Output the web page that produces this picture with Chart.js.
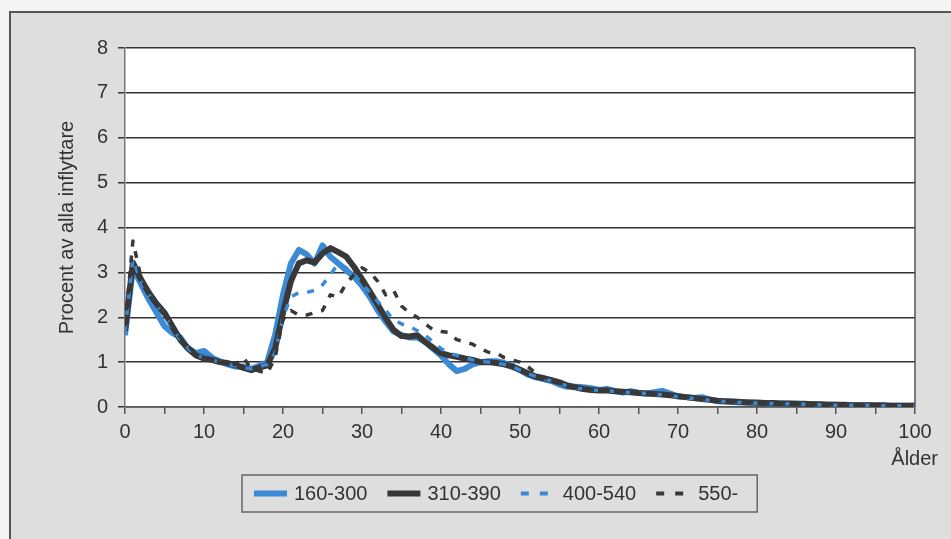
<!DOCTYPE html>
<html>
<head>
<meta charset="utf-8">
<script src="https://cdn.jsdelivr.net/npm/chart.js@4/dist/chart.umd.min.js"></script>
<style>
  html, body { margin: 0; padding: 0; background: #f4f4f4; }
</style>
</head>
<body>
<canvas id="chart" width="951" height="539"></canvas>
<script>
// Age (years), 0..100
const ages = [
  0, 1, 2, 3, 4, 5, 6, 7, 8, 9,
  10, 11, 12, 13, 14, 15, 16, 17, 18, 19,
  20, 21, 22, 23, 24, 25, 26, 27, 28, 29,
  30, 31, 32, 33, 34, 35, 36, 37, 38, 39,
  40, 41, 42, 43, 44, 45, 46, 47, 48, 49,
  50, 51, 52, 53, 54, 55, 56, 57, 58, 59,
  60, 61, 62, 63, 64, 65, 66, 67, 68, 69,
  70, 71, 72, 73, 74, 75, 76, 77, 78, 79,
  80, 81, 82, 83, 84, 85, 86, 87, 88, 89,
  90, 91, 92, 93, 94, 95, 96, 97, 98, 99, 100
];

// Procent av alla inflyttare, per group
const grp160_300 = [
  1.60, 3.10, 2.75, 2.40, 2.10, 1.80, 1.65, 1.55, 1.30, 1.20,
  1.25, 1.10, 1.02, 0.95, 0.90, 0.90, 0.85, 0.92, 1.00, 1.60,
  2.50, 3.20, 3.50, 3.40, 3.20, 3.60, 3.35, 3.20, 3.05, 2.90,
  2.70, 2.45, 2.15, 1.90, 1.68, 1.60, 1.55, 1.55, 1.45, 1.30,
  1.15, 0.95, 0.80, 0.85, 0.95, 1.00, 1.02, 1.02, 0.98, 0.92,
  0.82, 0.72, 0.66, 0.62, 0.58, 0.50, 0.45, 0.45, 0.44, 0.42,
  0.38, 0.40, 0.36, 0.32, 0.35, 0.32, 0.30, 0.33, 0.36, 0.30,
  0.24, 0.22, 0.20, 0.22, 0.17, 0.13, 0.12, 0.11, 0.10, 0.10,
  0.09, 0.09, 0.08, 0.08, 0.07, 0.07, 0.06, 0.06, 0.05, 0.05,
  0.05, 0.04, 0.04, 0.04, 0.04, 0.03, 0.03, 0.03, 0.03, 0.03, 0.03
];

const grp310_390 = [
  1.70, 3.22, 2.85, 2.55, 2.30, 2.10, 1.80, 1.50, 1.30, 1.15,
  1.08, 1.05, 1.00, 0.98, 0.93, 0.87, 0.82, 0.88, 0.93, 1.30,
  2.10, 2.80, 3.20, 3.27, 3.22, 3.42, 3.54, 3.45, 3.35, 3.12,
  2.85, 2.57, 2.28, 1.98, 1.72, 1.58, 1.57, 1.60, 1.45, 1.32,
  1.20, 1.15, 1.12, 1.08, 1.05, 1.00, 1.00, 0.98, 0.95, 0.90,
  0.83, 0.75, 0.68, 0.64, 0.60, 0.55, 0.48, 0.44, 0.40, 0.38,
  0.37, 0.37, 0.35, 0.34, 0.33, 0.31, 0.30, 0.29, 0.28, 0.26,
  0.24, 0.22, 0.20, 0.18, 0.16, 0.14, 0.13, 0.12, 0.11, 0.10,
  0.10, 0.09, 0.09, 0.08, 0.08, 0.07, 0.07, 0.06, 0.06, 0.05,
  0.05, 0.05, 0.04, 0.04, 0.04, 0.04, 0.04, 0.03, 0.03, 0.03, 0.03
];

const grp400_540 = [
  1.70, 3.30, 2.80, 2.50, 2.25, 2.05, 1.75, 1.50, 1.30, 1.15,
  1.10, 1.05, 1.00, 0.95, 0.92, 0.88, 0.85, 0.90, 0.95, 1.20,
  2.00, 2.45, 2.55, 2.55, 2.60, 2.72, 2.95, 3.20, 3.10, 2.95,
  2.75, 2.55, 2.35, 2.15, 1.95, 1.85, 1.80, 1.70, 1.60, 1.45,
  1.30, 1.20, 1.15, 1.10, 1.05, 1.02, 1.00, 0.98, 0.95, 0.90,
  0.82, 0.74, 0.68, 0.63, 0.58, 0.53, 0.47, 0.43, 0.40, 0.38,
  0.37, 0.36, 0.35, 0.33, 0.32, 0.31, 0.30, 0.28, 0.27, 0.25,
  0.23, 0.21, 0.19, 0.17, 0.15, 0.13, 0.12, 0.11, 0.10, 0.09,
  0.09, 0.08, 0.08, 0.07, 0.07, 0.06, 0.06, 0.05, 0.05, 0.05,
  0.04, 0.04, 0.04, 0.04, 0.04, 0.03, 0.03, 0.03, 0.03, 0.03, 0.03
];

const grp550 = [
  1.80, 3.70, 2.90, 2.50, 2.25, 2.05, 1.80, 1.55, 1.35, 1.20,
  1.10, 1.05, 1.00, 0.95, 0.95, 1.10, 0.85, 0.80, 0.75, 1.10,
  1.95, 2.15, 2.05, 2.05, 2.10, 2.15, 2.50, 2.45, 2.75, 2.95,
  3.10, 3.00, 2.80, 2.50, 2.60, 2.25, 2.10, 2.00, 1.85, 1.72,
  1.68, 1.66, 1.50, 1.45, 1.40, 1.30, 1.22, 1.20, 1.10, 1.05,
  1.00, 0.90, 0.75, 0.66, 0.60, 0.54, 0.48, 0.44, 0.40, 0.38,
  0.37, 0.36, 0.35, 0.34, 0.32, 0.31, 0.30, 0.29, 0.27, 0.26,
  0.24, 0.22, 0.20, 0.18, 0.16, 0.14, 0.13, 0.12, 0.11, 0.10,
  0.10, 0.09, 0.08, 0.08, 0.07, 0.07, 0.06, 0.06, 0.05, 0.05,
  0.05, 0.04, 0.04, 0.04, 0.04, 0.04, 0.03, 0.03, 0.03, 0.03, 0.03
];

const FONT = '"Liberation Sans", Arial, sans-serif';
const BLUE = '#3b8ad6';
const DARK = '#383838';
const TEXT = '#333333';

// Background, frame, plot border, legend box and the "Ålder" label
const framePlugin = {
  id: 'frame',
  beforeDraw(chart) {
    const { ctx, chartArea: a, width, height } = chart;
    ctx.save();
    ctx.fillStyle = '#f4f4f4';
    ctx.fillRect(0, 0, width, height);
    ctx.fillStyle = '#dedede';
    ctx.fillRect(10, 12, width - 10, height - 12);
    ctx.strokeStyle = '#555';
    ctx.lineWidth = 2;
    ctx.beginPath();
    ctx.moveTo(10, height);
    ctx.lineTo(10, 12);
    ctx.lineTo(width, 12);
    ctx.stroke();
    ctx.fillStyle = '#ffffff';
    ctx.fillRect(a.left, a.top, a.right - a.left, a.bottom - a.top);
    ctx.restore();
  },
  afterDraw(chart) {
    const { ctx, chartArea: a } = chart;
    ctx.save();
    // right edge of plot area
    ctx.strokeStyle = '#555';
    ctx.lineWidth = 1.5;
    ctx.beginPath();
    ctx.moveTo(a.right, a.top);
    ctx.lineTo(a.right, a.bottom);
    ctx.stroke();

    // x axis caption
    ctx.font = '20px ' + FONT;
    ctx.fillStyle = TEXT;
    ctx.textAlign = 'right';
    ctx.textBaseline = 'middle';
    ctx.fillText('Ålder', a.right + 23, 459);

    // legend
    const boxLeft = 242, boxTop = 475, boxH = 37;
    const itemGap = 20;
    const midY = boxTop + boxH / 2;
    let x = boxLeft + 12;
    ctx.textAlign = 'left';
    chart.data.datasets.forEach(ds => {
      const dashed = !!ds.borderDash;
      const sampleW = dashed ? 27 : 33;
      const textGap = dashed ? 15 : 7;
      ctx.strokeStyle = ds.borderColor;
      ctx.lineWidth = dashed ? 4 : 6;
      ctx.setLineDash(dashed ? [8, 11] : []);
      ctx.beginPath();
      ctx.moveTo(x, midY);
      ctx.lineTo(x + sampleW, midY);
      ctx.stroke();
      ctx.setLineDash([]);
      x += sampleW + textGap;
      ctx.fillText(ds.label, x, midY + 1);
      x += ctx.measureText(ds.label).width + itemGap;
    });
    const boxRight = x - itemGap + 19;
    ctx.strokeStyle = '#666';
    ctx.lineWidth = 1.5;
    ctx.strokeRect(boxLeft, boxTop, boxRight - boxLeft, boxH);
    ctx.restore();
  }
};

new Chart(document.getElementById('chart'), {
  type: 'line',
  data: {
    labels: ages,
    datasets: [
      { label: '160-300', data: grp160_300, borderColor: BLUE, borderWidth: 6, order: 3 },
      { label: '310-390', data: grp310_390, borderColor: DARK, borderWidth: 6, order: 2 },
      { label: '400-540', data: grp400_540, borderColor: BLUE, borderWidth: 3.5, borderDash: [7, 9], order: 1 },
      { label: '550-', data: grp550, borderColor: DARK, borderWidth: 3.5, borderDash: [7, 9], order: 0 }
    ]
  },
  options: {
    responsive: false,
    animation: false,
    layout: { padding: { left: 10, top: 48, right: 36, bottom: 0 } },
    elements: {
      point: { radius: 0 },
      line: { tension: 0, fill: false, borderJoinStyle: 'round' }
    },
    plugins: {
      legend: { display: false },
      tooltip: { enabled: false }
    },
    scales: {
      x: {
        type: 'linear',
        min: 0,
        max: 100,
        afterFit(scale) { scale.height = 132; },
        ticks: {
          stepSize: 5,
          autoSkip: false,
          maxRotation: 0,
          padding: 6,
          color: TEXT,
          font: { family: FONT, size: 20 },
          callback: v => (v % 10 === 0 ? v : '')
        },
        grid: { drawOnChartArea: false, tickLength: 7, color: '#555', lineWidth: 1.5 },
        border: { color: '#555', width: 1.5 }
      },
      y: {
        min: 0,
        max: 8,
        afterFit(scale) { scale.width = 115; },
        ticks: {
          stepSize: 1,
          padding: 10,
          color: TEXT,
          font: { family: FONT, size: 20 }
        },
        grid: { color: '#333', lineWidth: 1.5, tickLength: 7 },
        border: { color: '#777', width: 1.5 },
        title: {
          display: true,
          text: 'Procent av alla inflyttare',
          color: TEXT,
          font: { family: FONT, size: 20 },
          padding: { top: 45 }
        }
      }
    }
  },
  plugins: [framePlugin]
});
</script>
</body>
</html>
